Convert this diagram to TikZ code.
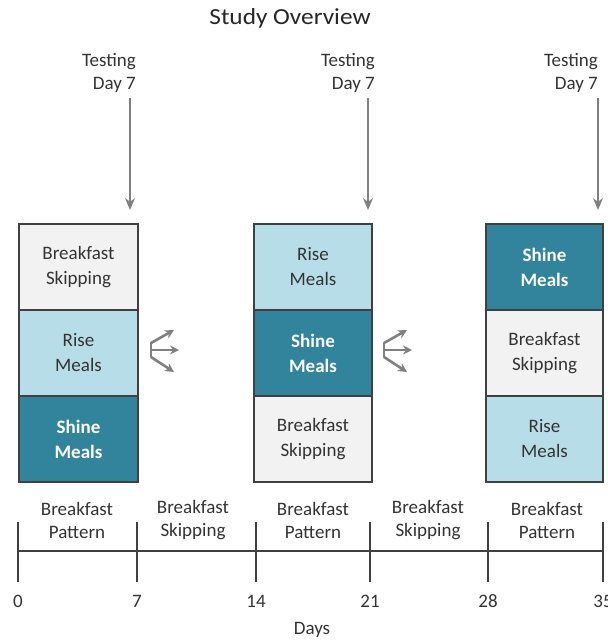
\documentclass[tikz,border=0pt]{standalone}
\usepackage{fontspec}
\setmainfont{Carlito}
\usetikzlibrary{arrows.meta}
\definecolor{skipc}{HTML}{F2F2F2}
\definecolor{risec}{HTML}{B7DDE8}
\definecolor{shinec}{HTML}{31849B}
\definecolor{edgec}{HTML}{404040}
\definecolor{txtc}{HTML}{333333}
\definecolor{arrc}{HTML}{808080}
\tikzset{
  lbl/.style={font=\fontsize{19}{23}\selectfont, text=txtc, inner sep=0pt},
  cellbox/.style={draw=edgec, line width=1.8pt, minimum height=86pt, inner sep=0pt, align=center,
     font=\fontsize{19}{25}\selectfont, text=txtc},
  skipcell/.style={cellbox, fill=skipc},
  risecell/.style={cellbox, fill=risec},
  shinecell/.style={cellbox, fill=shinec, text=white, font=\fontsize{19}{25}\selectfont\bfseries},
  testarrow/.style={draw=arrc, line width=1.8pt, -{Stealth[length=12pt,width=10pt]}},
  fanarrow/.style={draw=arrc, line width=2.6pt, -{Stealth[length=9pt,width=9pt]}},
  axis/.style={draw=edgec, line width=2pt},
  tick/.style={draw=edgec, line width=2.4pt},
}
\begin{document}
\begin{tikzpicture}[x=1pt,y=-1pt]
\useasboundingbox (0,0) rectangle (608,643);
\clip (0,0) rectangle (608,643);
% title
\node[lbl, text=black!85] (title) at (290,18) {\fontsize{23}{26}\selectfont\scalebox{1.1}[1]{Study Overview}};
% testing labels
\node[lbl, align=right, anchor=east] (tl1) at (136,73) {Testing\\Day 7};
\node[lbl, align=right, anchor=east] (tl2) at (375,73) {Testing\\Day 7};
\node[lbl, align=right, anchor=east] (tl3) at (598,73) {Testing\\Day 7};
\coordinate (a1s) at (130,98);  \coordinate (a1e) at (130,210);
\coordinate (a2s) at (368,98);  \coordinate (a2e) at (368,210);
\coordinate (a3s) at (598,98);  \coordinate (a3e) at (598,210);
\draw[testarrow] (a1s) -- (a1e);
\draw[testarrow] (a2s) -- (a2e);
\draw[testarrow] (a3s) -- (a3e);
% column 1
\node[skipcell, minimum width=119pt] (c11) at (78.5,267) {Breakfast\\Skipping};
\node[risecell, minimum width=119pt] (c12) at (78.5,353) {Rise\\Meals};
\node[shinecell, minimum width=119pt] (c13) at (78.5,439) {Shine\\Meals};
% column 2
\node[risecell, minimum width=118pt] (c21) at (313,267) {Rise\\Meals};
\node[shinecell, minimum width=118pt] (c22) at (313,353) {Shine\\Meals};
\node[skipcell, minimum width=118pt] (c23) at (313,439) {Breakfast\\Skipping};
% column 3
\node[shinecell, minimum width=117pt] (c31) at (544.5,267) {Shine\\Meals};
\node[skipcell, minimum width=117pt] (c32) at (544.5,353) {Breakfast\\Skipping};
\node[risecell, minimum width=117pt] (c33) at (544.5,439) {Rise\\Meals};
% fan icons
\foreach \x/\n in {151/f1, 384/f2} {
  \coordinate (\n t) at (\x,343);
  \coordinate (\n m) at (\x,350);
  \coordinate (\n b) at (\x,357);
  \draw[fanarrow] (\n t) -- ++(23,-13);
  \draw[fanarrow] (\n m) -- ++(28,0);
  \draw[fanarrow] (\n b) -- ++(23,15);
  \draw[draw=arrc, line width=2.6pt, line cap=round] (\n t) -- (\n b);
}
% timeline
\foreach \x/\n in {18/0, 137/7, 256/14, 370/21, 488/28, 603/35} {
  \coordinate (tt\n) at (\x,522);
  \coordinate (tb\n) at (\x,582);
  \coordinate (tm\n) at (\x,551);
  \draw[tick] (tt\n) -- (tb\n);
  \node[lbl] (num\n) at (\x,601) {\n};
}
\draw[axis] (tm0) -- (tm35);
\node[lbl, align=center] (p1) at (77,520) {Breakfast\\Pattern};
\node[lbl, align=center] (p2) at (193,520) {Breakfast\\Skipping};
\node[lbl, align=center] (p3) at (313,520) {Breakfast\\Pattern};
\node[lbl, align=center] (p4) at (428,520) {Breakfast\\Skipping};
\node[lbl, align=center] (p5) at (547,520) {Breakfast\\Pattern};
\node[lbl] (days) at (312,630) {Days};
\end{tikzpicture}
\end{document}
